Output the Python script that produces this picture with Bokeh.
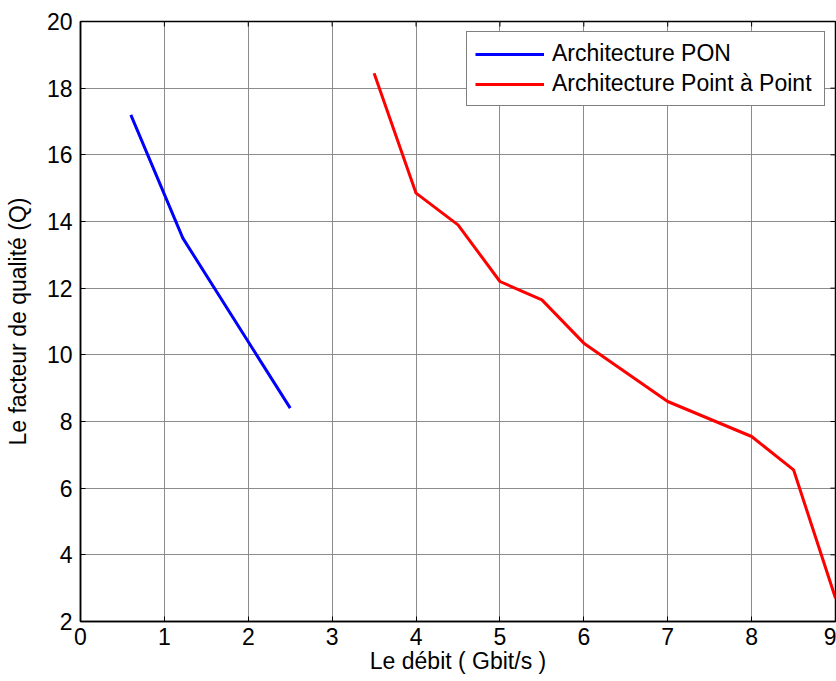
from bokeh.plotting import figure
from bokeh.models import Range1d, Legend, LegendItem, FixedTicker
from bokeh.embed import file_html
from bokeh.resources import INLINE

# Data
pon_x = [0.6, 1.22, 2.5]
pon_y = [17.2, 13.5, 8.4]
p2p_x = [3.5, 4.0, 4.5, 5.0, 5.5, 6.0, 7.0, 8.0, 8.5, 9.0]
p2p_y = [18.45, 14.85, 13.9, 12.2, 11.65, 10.35, 8.6, 7.55, 6.55, 2.7]
x_ticks = [0, 1, 2, 3, 4, 5, 6, 7, 8, 9]
y_ticks = [2, 4, 6, 8, 10, 12, 14, 16, 18, 20]
series_names = ["Architecture PON", "Architecture Point à Point"]
x_label = "Le débit ( Gbit/s )"
y_label = "Le facteur de qualité (Q)"

FONT = "Liberation Sans"
FS = "23px"
X0, X1, Y0, Y1 = 0, 9, 2, 20

p = figure(width=836, height=681, x_range=Range1d(X0, X1), y_range=Range1d(Y0, Y1),
           output_backend="svg", toolbar_location=None,
           min_border_left=80, min_border_top=21, min_border_right=1, min_border_bottom=60,
           background_fill_color="white", border_fill_color="white")

p.outline_line_color = "black"
p.outline_line_width = 1.5
p.outline_line_alpha = 1.0

for ax in (p.xaxis[0], p.yaxis[0]):
    ax.major_tick_in = 5
    ax.major_tick_out = 0
    ax.minor_tick_line_color = None
    ax.axis_line_color = "black"
    ax.axis_line_width = 1.5
    ax.major_tick_line_color = "black"
    ax.major_label_text_font = FONT
    ax.major_label_text_font_size = FS
    ax.major_label_text_color = "black"
    ax.axis_label_text_font = FONT
    ax.axis_label_text_font_size = FS
    ax.axis_label_text_font_style = "normal"
    ax.axis_label_text_color = "black"

p.xaxis.ticker = FixedTicker(ticks=x_ticks)
p.yaxis.ticker = FixedTicker(ticks=y_ticks)
p.xaxis.axis_label = x_label
p.yaxis.axis_label = y_label
p.xaxis.major_label_standoff = 6
p.xaxis.axis_label_standoff = 0
p.yaxis.major_label_standoff = 8
p.yaxis.axis_label_standoff = 13

p.xgrid.ticker = FixedTicker(ticks=x_ticks)
p.ygrid.ticker = FixedTicker(ticks=y_ticks)
for g in (p.xgrid[0], p.ygrid[0]):
    g.grid_line_color = "#808080"
    g.grid_line_width = 1
    g.grid_line_alpha = 0.9

# Inward tick marks on the top and right edges of the box
p.segment(x0=x_ticks, y0=[Y1] * len(x_ticks), x1=x_ticks, y1=[Y1 - 0.15] * len(x_ticks),
          line_color="black", line_width=1)
p.segment(x0=[X1] * len(y_ticks), y0=y_ticks, x1=[X1 - 0.06] * len(y_ticks), y1=y_ticks,
          line_color="black", line_width=1)

r1 = p.line(pon_x, pon_y, line_color="#0000ff", line_width=3)
r2 = p.line(p2p_x, p2p_y, line_color="#ff0000", line_width=3)

legend = Legend(items=[LegendItem(label=series_names[0], renderers=[r1]),
                       LegendItem(label=series_names[1], renderers=[r2])],
                location="top_right", margin=10, padding=8, spacing=3,
                glyph_width=69, glyph_height=22, label_height=22, label_standoff=8,
                label_width=264,
                label_text_font=FONT, label_text_font_size=FS, label_text_color="black",
                border_line_color="black", border_line_width=1.5,
                background_fill_color="white", background_fill_alpha=1.0)
p.add_layout(legend, "center")

open("out.html", "w").write(file_html(p, INLINE))
